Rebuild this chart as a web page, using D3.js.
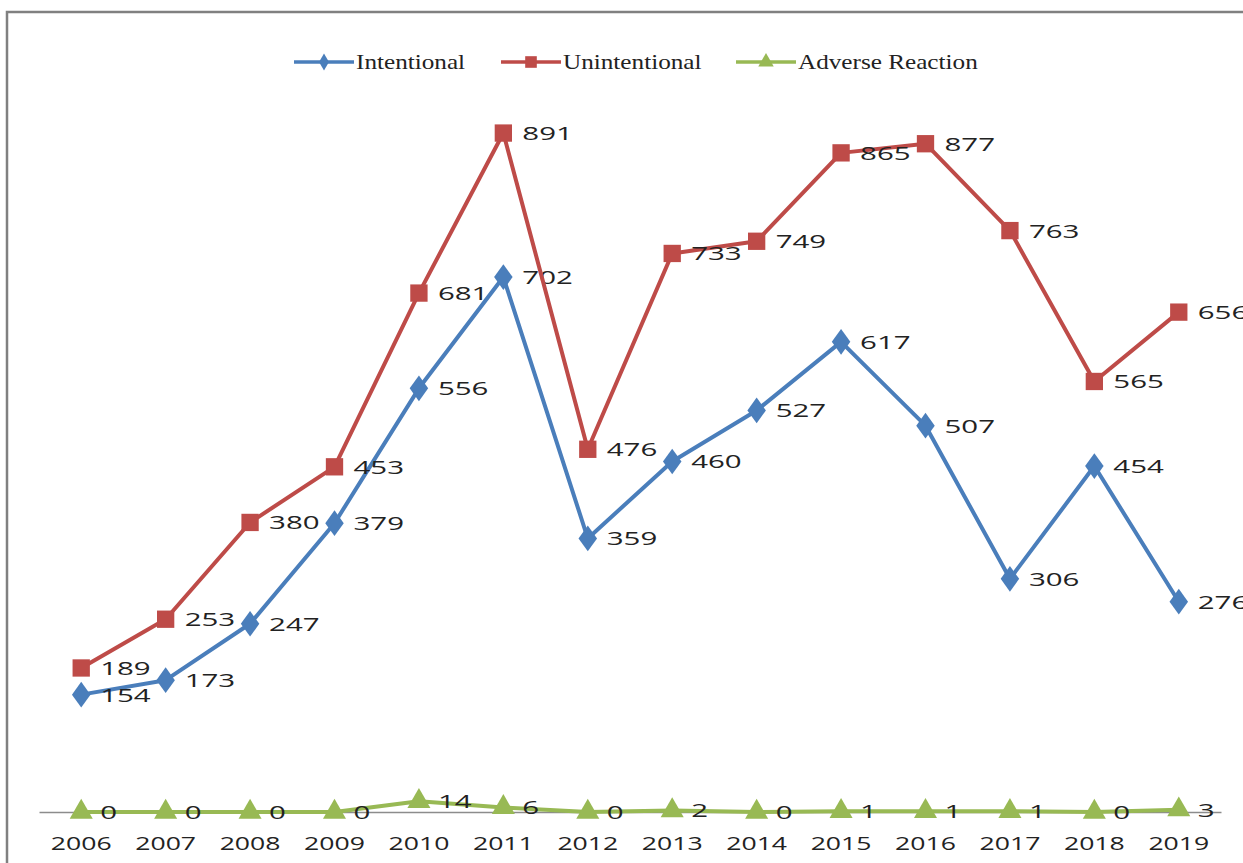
<!DOCTYPE html>
<html lang="en">
  <head>
    <script src="https://d3js.org/d3.v7.min.js"></script>
    <meta charset="UTF-8" />
    <title>Cases by year</title>
    <style>
      body { margin: 0; background: #fff; }
    </style>
  </head>
  <body>
    <svg width="1243" height="863"></svg>
    <script>
      var years = ["2006","2007","2008","2009","2010","2011","2012","2013","2014","2015","2016","2017","2018","2019"];
      var intentional = [154,173,247,379,556,702,359,460,527,617,507,306,454,276];
      var unintentional = [189,253,380,453,681,891,476,733,749,865,877,763,565,656];
      var adverse = [0,0,0,0,14,6,0,2,0,1,1,1,0,3];
      var seriesNames = ["Intentional","Unintentional","Adverse Reaction"];

      var svg = d3.select("svg");
      svg.append("rect")
        .attr("x", 7).attr("y", 12)
        .attr("width", 1400).attr("height", 1000)
        .attr("fill", "#fff")
        .attr("stroke", "#808080")
        .attr("stroke-width", 2.5);

      var x = d3.scaleBand().domain(years).range([39, 1221]);
      var y = d3.scaleLinear().domain([0, 1000]).range([812, 50]);
      var cx = function (d) { return x(d) + x.bandwidth() / 2; };

      // category axis
      var ax = svg.append("g")
        .attr("transform", "translate(0,812)")
        .call(d3.axisBottom(x).tickSize(0).tickPadding(0));
      ax.select(".domain").attr("stroke", "#8c8c8c").attr("stroke-width", 1.5);
      ax.selectAll(".tick text").remove();
      years.forEach(function (yr) {
        svg.append("text")
          .attr("transform", "translate(" + cx(yr) + ",850) scale(1.4,1)")
          .attr("text-anchor", "middle")
          .attr("font-family", "Open Sans, sans-serif")
          .attr("font-size", 19)
          .attr("fill", "#222")
          .text(yr);
      });

      var series = [
        { name: seriesNames[0], values: intentional, color: "#4a7ebb", shape: d3.symbolDiamond, size: 190 },
        { name: seriesNames[1], values: unintentional, color: "#be4b48", shape: d3.symbolSquare, size: 300 },
        { name: seriesNames[2], values: adverse, color: "#98b954", shape: d3.symbolTriangle, size: 230 }
      ];

      var line = d3.line()
        .x(function (d) { return cx(d.year); })
        .y(function (d) { return y(d.value); });

      series.forEach(function (s) {
        var pts = years.map(function (yr, i) { return { year: yr, value: s.values[i] }; });
        svg.append("path")
          .datum(pts)
          .attr("fill", "none")
          .attr("stroke", s.color)
          .attr("stroke-width", 4)
          .attr("stroke-linejoin", "round")
          .attr("d", line);
        svg.selectAll(null)
          .data(pts)
          .enter()
          .append("path")
          .attr("transform", function (d) {
            var sc = s.shape === d3.symbolDiamond ? " scale(1.25,1)" : "";
            return "translate(" + cx(d.year) + "," + y(d.value) + ")" + sc;
          })
          .attr("d", d3.symbol().type(s.shape).size(s.size))
          .attr("fill", s.color);
        svg.selectAll(null)
          .data(pts)
          .enter()
          .append("text")
          .attr("transform", function (d) {
            return "translate(" + (cx(d.year) + 19) + "," + (y(d.value) + 7) + ") scale(1.55,1)";
          })
          .attr("font-family", "Open Sans, sans-serif")
          .attr("font-size", 19)
          .attr("fill", "#222")
          .text(function (d) { return d.value; });
      });

      // legend
      var legendX = [294, 501, 736];
      series.forEach(function (s, i) {
        var lg = svg.append("g").attr("transform", "translate(" + legendX[i] + ",62)");
        lg.append("line")
          .attr("x1", 0).attr("x2", 60)
          .attr("stroke", s.color).attr("stroke-width", 3.5);
        lg.append("path")
          .attr("transform", "translate(30,0)")
          .attr("d", d3.symbol().type(s.shape).size(s.size * 0.45))
          .attr("fill", s.color);
        lg.append("text")
          .attr("transform", "translate(62,7) scale(1.26,1)")
          .attr("font-family", "Liberation Serif, serif")
          .attr("font-size", 20)
          .attr("fill", "#222")
          .text(s.name);
      });
    </script>
  </body>
</html>
